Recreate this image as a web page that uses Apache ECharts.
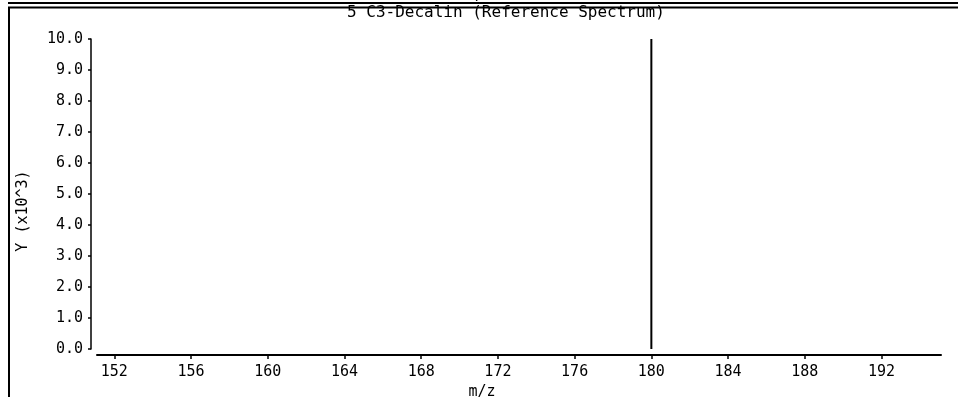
<!DOCTYPE html>
<html>
<head>
<meta charset="utf-8">
<script src="https://cdn.jsdelivr.net/npm/echarts@6/dist/echarts.min.js"></script>
<style>
html,body{margin:0;padding:0;background:#fff;}
#c{width:958px;height:397px;}
</style>
</head>
<body>
<div id="c"></div>
<script>
// ---- data ----
const titleText = '5 C3-Decalin (Reference Spectrum)';
const xName = 'm/z';
const yName = 'Y (x10^3)';
const mzValues = [180];
const intensityValues = [10.0];
const xTicks = [152, 156, 160, 164, 168, 172, 176, 180, 184, 188, 192];
const yTicks = [0, 1, 2, 3, 4, 5, 6, 7, 8, 9, 10];
const xRange = [151.1, 195.1];
const yRange = [0, 10];

const FONT = '"DejaVu Sans Mono", monospace';
const chart = echarts.init(document.getElementById('c'), null, {renderer: 'canvas'});

const peaks = mzValues.map((m, i) => [m, intensityValues[i]]);

chart.setOption({
  animation: false,
  backgroundColor: '#fff',
  title: {
    text: titleText,
    left: 342,
    top: 0,
    textStyle: {fontFamily: FONT, fontSize: 16, fontWeight: 'normal', color: '#000'}
  },
  grid: {left: 97, right: 17, top: 39, bottom: 48, containLabel: false, outerBoundsMode: 'none'},
  xAxis: {
    type: 'value',
    min: xRange[0],
    max: xRange[1],
    offset: 6,
    name: xName,
    nameLocation: 'middle',
    nameGap: 27,
    nameTextStyle: {fontFamily: FONT, fontSize: 15, color: '#000', padding: [0, 74, 0, 0]},
    axisLine: {show: true, onZero: false, lineStyle: {color: '#000', width: 2}},
    axisTick: {show: true, inside: false, length: 4, customValues: xTicks, lineStyle: {color: '#000', width: 1.5}},
    axisLabel: {show: true, margin: 10, customValues: xTicks, fontFamily: FONT, fontSize: 15, color: '#000',
      formatter: v => String(v)},
    splitLine: {show: false}
  },
  yAxis: {
    type: 'value',
    min: yRange[0],
    max: yRange[1],
    offset: 6,
    name: yName,
    nameLocation: 'middle',
    nameGap: 60,
    nameRotate: 90,
    nameTextStyle: {fontFamily: FONT, fontSize: 15, color: '#000', padding: [0, 34, 0, 0]},
    axisLine: {show: true, lineStyle: {color: '#000', width: 1.5}},
    axisTick: {show: true, inside: false, length: 3, customValues: yTicks, lineStyle: {color: '#000', width: 1.5}},
    axisLabel: {show: true, margin: 8, customValues: yTicks, fontFamily: FONT, fontSize: 15, color: '#000',
      formatter: v => v.toFixed(1)},
    splitLine: {show: false}
  },
  series: [{
    type: 'bar',
    data: peaks,
    barWidth: 2,
    itemStyle: {color: '#000'},
    silent: true
  }],
  graphic: [
    {type: 'line', shape: {x1: 8, y1: 3, x2: 958, y2: 3}, style: {stroke: '#000', lineWidth: 2}},
    {type: 'line', shape: {x1: 8, y1: 7.5, x2: 958, y2: 7.5}, style: {stroke: '#000', lineWidth: 2}},
    {type: 'line', shape: {x1: 9, y1: 7, x2: 9, y2: 397}, style: {stroke: '#000', lineWidth: 2}},
    {type: 'text', left: 466, top: -11, style: {text: xName, font: '15px ' + FONT, fill: '#000'}}
  ]
});
</script>
</body>
</html>
